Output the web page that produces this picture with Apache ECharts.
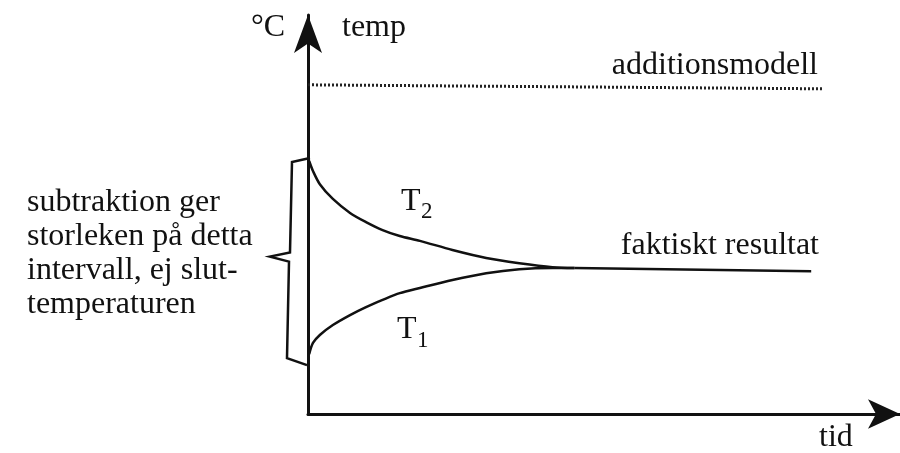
<!DOCTYPE html>
<html>
<head>
<meta charset="utf-8">
<script src="https://cdn.jsdelivr.net/npm/echarts@6/dist/echarts.min.js"></script>
<style>
  html, body { margin: 0; padding: 0; background: #fff; }
  #chart { width: 900px; height: 453px; }
</style>
</head>
<body>
<div id="chart"></div>
<script>
// tid (x) och temp (y), skala 0-100
var tid = [0.2, 0.84, 2.0, 4.2, 7.1, 9.8, 12.6, 15.5, 18.9, 24.4, 30.1, 35.7, 41.3, 45.0];
var tempT2 = [63.4, 60.9, 57.6, 53.9, 50.4, 48.1, 46.1, 44.6, 43.4, 41.1, 39.1, 37.8, 36.8, 36.6];
var tempT1 = [15.0, 17.8, 19.8, 22.3, 24.8, 26.8, 28.6, 30.3, 31.6, 33.6, 35.3, 36.3, 36.6, 36.6];
var resultatTid = [45.0, 85];
var resultatTemp = [36.6, 35.8];
var additionTid = [0, 87];
var additionTemp = [82.5, 81.5];

var ink = '#111';
var serif = "'Liberation Serif', 'DejaVu Serif', serif";

function pairs(xs, ys) {
    return xs.map(function (x, i) { return [x, ys[i]]; });
}

function axisLine(size) {
    return {
        show: true,
        onZero: false,
        symbol: ['none', 'arrow'],
        symbolSize: size,
        lineStyle: { color: ink, width: 3 }
    };
}

function txt(x, y, text, size, align) {
    return {
        type: 'text', x: x, y: y,
        style: { text: text, fill: ink, font: size + 'px ' + serif, align: align || 'left', verticalAlign: 'middle' }
    };
}

var chart = echarts.init(document.getElementById('chart'));

var curve = { type: 'line', showSymbol: false, smooth: 0.3, lineStyle: { color: ink, width: 2.5 } };

chart.setOption({
    animation: false,
    backgroundColor: '#fff',
    grid: { left: 308, right: -2, top: 15, bottom: 39 },
    xAxis: {
        type: 'value', min: 0, max: 100,
        axisLine: axisLine([22, 32]),
        axisTick: { show: false }, axisLabel: { show: false }, splitLine: { show: false }
    },
    yAxis: {
        type: 'value', min: 0, max: 100,
        axisLine: axisLine([21, 38]),
        axisTick: { show: false }, axisLabel: { show: false }, splitLine: { show: false }
    },
    series: [
        {
            name: 'additionsmodell', type: 'line', showSymbol: false,
            data: pairs(additionTid, additionTemp),
            lineStyle: { color: '#222', width: 3, type: [2, 2] }
        },
        Object.assign({ name: 'T2', data: pairs(tid, tempT2) }, curve),
        Object.assign({ name: 'T1', data: pairs(tid, tempT1) }, curve),
        {
            name: 'faktiskt resultat', type: 'line', showSymbol: false,
            data: pairs(resultatTid, resultatTemp),
            lineStyle: { color: ink, width: 2.5 }
        }
    ]
});

// klammer mellan startpunkterna för T2 och T1
var pTop = chart.convertToPixel({ gridIndex: 0 }, [0, tempT2[0]]);
var pBot = chart.convertToPixel({ gridIndex: 0 }, [0, tempT1[0]]);
var x0 = pTop[0];
var mid = (pTop[1] + pBot[1]) / 2;

chart.setOption({
    graphic: [
        {
            type: 'polyline',
            shape: { points: [
                [x0 + 2, pTop[1] - 3], [x0 - 16, pTop[1] + 1], [x0 - 18, mid - 5], [x0 - 38, mid - 1],
                [x0 - 19, mid + 4], [x0 - 21, pBot[1] + 4], [x0 - 1, pBot[1] + 11]
            ] },
            style: { stroke: ink, lineWidth: 2.5, fill: null }
        },
        txt(251, 28, '°C', 32),
        txt(342, 28, 'temp', 32),
        txt(818, 66, 'additionsmodell', 32, 'right'),
        txt(819, 246, 'faktiskt resultat', 32, 'right'),
        txt(819, 438, 'tid', 32),
        txt(401, 202, 'T', 32),
        txt(421, 212, '2', 23),
        txt(397, 330, 'T', 32),
        txt(417, 341, '1', 23),
        txt(27, 203, 'subtraktion ger', 32),
        txt(27, 237, 'storleken på detta', 32),
        txt(27, 271, 'intervall, ej slut-', 32),
        txt(27, 305, 'temperaturen', 32)
    ]
});
</script>
</body>
</html>
